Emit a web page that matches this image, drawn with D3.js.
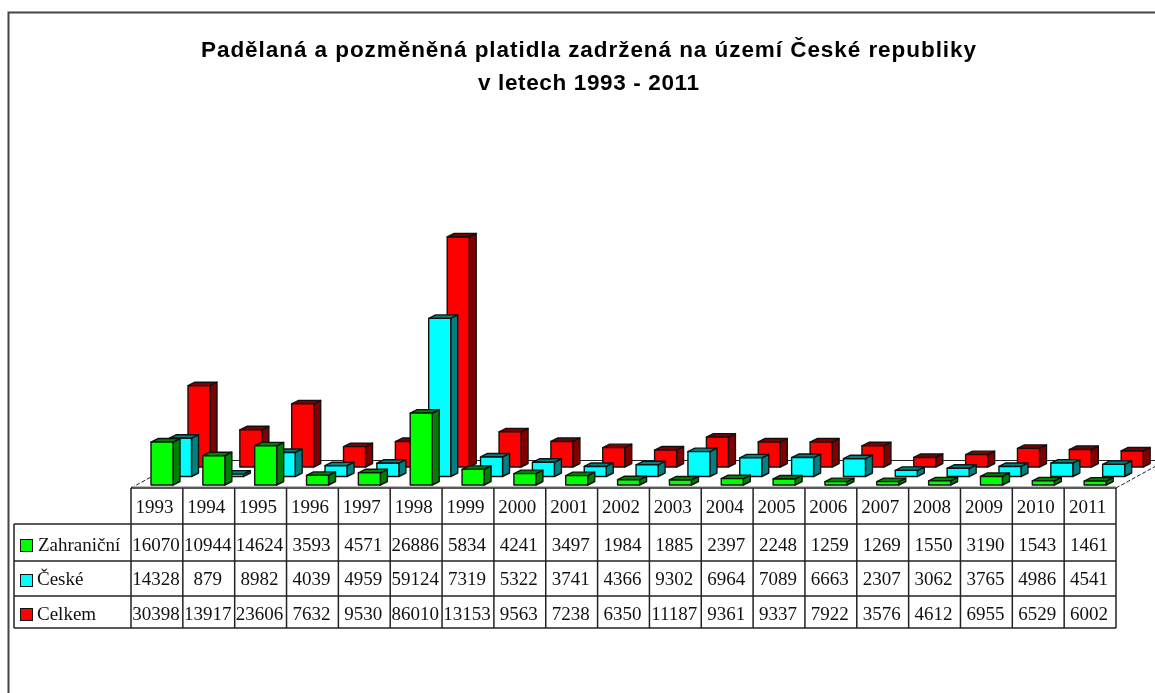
<!DOCTYPE html>
<html>
<head>
<meta charset="utf-8">
<script src="https://cdn.jsdelivr.net/npm/d3@7"></script>
<style>
  html, body { margin: 0; padding: 0; background: #fff; overflow: hidden; }
  svg { display: block; filter: blur(0.45px); }
  .title { font-family: "Liberation Sans", Arial, sans-serif; font-weight: bold; font-size: 22.5px; fill: #000; }
  .cell { font-family: "Liberation Serif", "Times New Roman", serif; font-size: 19px; fill: #111; }
</style>
</head>
<body>
<svg id="chart" width="1155" height="693"></svg>
<script>
const years = ["1993","1994","1995","1996","1997","1998","1999","2000","2001","2002","2003","2004","2005","2006","2007","2008","2009","2010","2011"];
const zahranicni = [16070,10944,14624,3593,4571,26886,5834,4241,3497,1984,1885,2397,2248,1259,1269,1550,3190,1543,1461];
const ceske = [14328,879,8982,4039,4959,59124,7319,5322,3741,4366,9302,6964,7089,6663,2307,3062,3765,4986,4541];
const celkem = [30398,13917,23606,7632,9530,86010,13153,9563,7238,6350,11187,9361,9337,7922,3576,4612,6955,6529,6002];
const seriesNames = ["Zahraniční","České","Celkem"];
const titleLines = ["Padělaná a pozměněná platidla zadržená na území České republiky","v letech 1993 - 2011"];

const svg = d3.select("#chart");

// columns of the table, the bars stand on the same scale
const xScale = d3.scaleBand().domain(years).range([131, 1116]);
const hScale = d3.scaleLinear().domain([0, 86010]).range([0, 230]);

const rowLines = [488, 524, 561, 596, 628];
const tableBottom = 628;
const barWidth = 22;
const sideX = 7, sideY = -3.5;

// outer frame of the chart, cut by the picture on the right
svg.append("path")
    .attr("d", "M8.5,693V12.5H1155")
    .attr("fill", "none")
    .attr("stroke", "#444")
    .attr("stroke-width", 2);

const titleWidths = [775, 221];
svg.selectAll("text.title")
    .data(titleLines)
    .join("text")
    .attr("class", "title")
    .attr("text-anchor", "middle")
    .attr("x", 588.5)
    .attr("y", (d, i) => 57 + i * 33)
    .attr("textLength", (d, i) => titleWidths[i])
    .attr("lengthAdjust", "spacing")
    .text(d => d);

// floor
const floor = svg.append("g").attr("fill", "none").attr("stroke", "#222");
floor.append("line").attr("x1", 181).attr("x2", 1155).attr("y1", 460.5).attr("y2", 460.5);
floor.append("line").attr("x1", 131).attr("y1", 488).attr("x2", 181).attr("y2", 460.5).attr("stroke-dasharray", "4,2");
floor.append("line").attr("x1", 1116).attr("y1", 488).attr("x2", 1166).attr("y2", 460.5).attr("stroke-dasharray", "4,2");
floor.append("line").attr("x1", 131).attr("x2", 1116).attr("y1", 486.5).attr("y2", 486.5).attr("stroke", "#bbb");

// back row first so the front rows cover it
const barSeries = [
    {values: celkem, offset: 57, base: 467, front: "#ff0000", dark: "#800000"},
    {values: ceske, offset: 38.5, base: 476.5, front: "#00ffff", dark: "#008080"},
    {values: zahranicni, offset: 20, base: 485, front: "#00ff00", dark: "#008000"}
];

barSeries.forEach(s => {
    const g = svg.append("g").attr("stroke", "#111").attr("stroke-width", 1.4).attr("stroke-linejoin", "round");
    const bars = g.selectAll("g")
        .data(s.values)
        .join("g");

    const left = (d, i) => xScale(years[i]) + s.offset;
    const top = d => s.base - hScale(d);

    bars.append("path")
        .attr("fill", s.dark)
        .attr("d", (d, i) => {
            const x = left(d, i) + barWidth, y = top(d);
            return `M${x},${y}l${sideX},${sideY}V${s.base + sideY}L${x},${s.base}Z`;
        });
    bars.append("path")
        .attr("fill", s.dark)
        .attr("d", (d, i) => {
            const x = left(d, i), y = top(d);
            return `M${x},${y}l${sideX},${sideY}h${barWidth}l${-sideX},${-sideY}Z`;
        });
    bars.append("rect")
        .attr("fill", s.front)
        .attr("x", left)
        .attr("y", top)
        .attr("width", barWidth)
        .attr("height", d => hScale(d));
});

// data table
const table = svg.append("g").attr("stroke", "#222").attr("stroke-width", 1.5);
rowLines.forEach((y, i) => {
    table.append("line")
        .attr("x1", i == 0 ? 131 : 14)
        .attr("x2", 1116)
        .attr("y1", y)
        .attr("y2", y);
});
table.append("line").attr("x1", 14).attr("x2", 14).attr("y1", 524).attr("y2", tableBottom);
table.selectAll("line.col")
    .data(years)
    .join("line")
    .attr("class", "col")
    .attr("x1", d => xScale(d))
    .attr("x2", d => xScale(d))
    .attr("y1", 488)
    .attr("y2", tableBottom);
table.append("line").attr("x1", 1116).attr("x2", 1116).attr("y1", 488).attr("y2", tableBottom);

const cellText = (values, y, shift) => {
    svg.append("g").selectAll("text")
        .data(values)
        .join("text")
        .attr("class", "cell")
        .attr("text-anchor", "middle")
        .attr("x", (d, i) => xScale(years[i]) + xScale.bandwidth() / 2 + shift)
        .attr("y", y)
        .text(d => d);
};
cellText(years, 513, -2.5);
cellText(zahranicni, 551, -1);
cellText(ceske, 585, -1);
cellText(celkem, 620, -1);

// legend keys in the first column
const legendColors = ["#00ff00", "#00ffff", "#ff0000"];
const legendY = [539, 574, 608];
const legendTextY = [551, 585, 620];
const legendTextX = [38, 37, 37];
svg.append("g").selectAll("rect")
    .data(seriesNames)
    .join("rect")
    .attr("x", 20.5)
    .attr("y", (d, i) => legendY[i] + 0.5)
    .attr("width", 12)
    .attr("height", 12)
    .attr("fill", (d, i) => legendColors[i])
    .attr("stroke", "#111");
svg.append("g").selectAll("text")
    .data(seriesNames)
    .join("text")
    .attr("class", "cell")
    .attr("x", (d, i) => legendTextX[i])
    .attr("y", (d, i) => legendTextY[i])
    .text(d => d);
</script>
</body>
</html>
